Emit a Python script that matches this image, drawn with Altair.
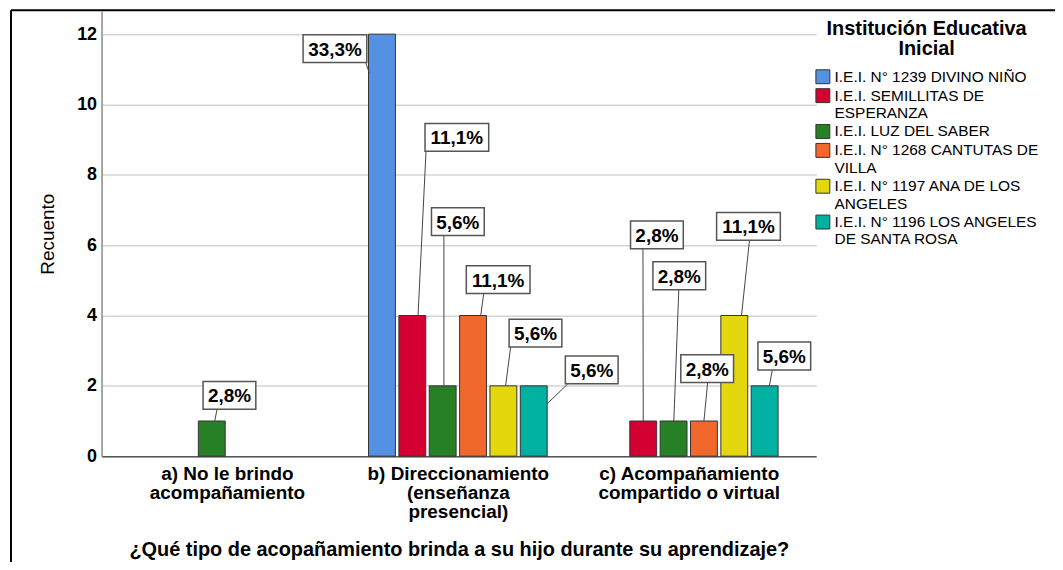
import textwrap
import altair as alt
import pandas as pd

# ---------------- data ----------------
categories = [
    "a) No le brindo acompañamiento",
    "b) Direccionamiento (enseñanza presencial)",
    "c) Acompañamiento compartido o virtual",
]
institutions = [
    "I.E.I. N° 1239 DIVINO NIÑO",
    "I.E.I. SEMILLITAS DE ESPERANZA",
    "I.E.I. LUZ DEL SABER",
    "I.E.I. N° 1268 CANTUTAS DE VILLA",
    "I.E.I. N° 1197 ANA DE LOS ANGELES",
    "I.E.I. N° 1196 LOS ANGELES DE SANTA ROSA",
]
colors = ["#5491e2", "#d50032", "#278026", "#f0682c", "#e4d70e", "#00b0a0"]

counts_a = [0, 0, 1, 0, 0, 0]
counts_b = [12, 4, 2, 4, 2, 2]
counts_c = [0, 1, 1, 1, 4, 2]
pct_a = [0, 0, 2.8, 0, 0, 0]
pct_b = [33.3, 11.1, 5.6, 11.1, 5.6, 5.6]
pct_c = [0, 2.8, 2.8, 2.8, 11.1, 5.6]

x_title = "¿Qué tipo de acopañamiento brinda a su hijo durante su aprendizaje?"
y_title = "Recuento"
legend_title = ["Institución Educativa", "Inicial"]

# ---------------- layout (pixels) ----------------
PLOT_W, PLOT_H = 718, 447
X_DOMAIN = [-0.5431, 2.5517]
Y_DOMAIN = [0, 12.65]
PXX = (X_DOMAIN[1] - X_DOMAIN[0]) / PLOT_W
PXY = (Y_DOMAIN[1] - Y_DOMAIN[0]) / PLOT_H
BAR_STEP = 30.5 * PXX
BOX_H = 14

# label placement: (box dx, box dy from bar top, leader dx at bar, leader dy at bar, leader dx at box)
label_layout = {
    (0, 2): (17.75, -25.7, 3, 0, -12.5),
    (1, 0): (-47.25, 14.5, -12.75, 39, 31),
    (1, 1): (44.75, -179, 5.75, 0, -31),
    (1, 2): (15.25, -165, 1.25, 0, -14),
    (1, 3): (25.25, -36, 7.75, 0, -14.5),
    (1, 4): (32.25, -53, 2.25, 0, -25),
    (1, 5): (58.25, -16, 13.5, 18, -24),
    (2, 1): (13.75, -187, 0, 0, -14),
    (2, 2): (5.75, -146, 0.25, 0, -0.5),
    (2, 3): (3.25, -52.7, 0, 0, 0.5),
    (2, 4): (14.25, -89.5, 7.25, 0, 1),
    (2, 5): (19.75, -30, 4.75, 0, -12),
}

rows = []
for ci, (cnts, pcts) in enumerate(zip([counts_a, counts_b, counts_c], [pct_a, pct_b, pct_c])):
    for ii, inst in enumerate(institutions):
        c = cnts[ii]
        if c <= 0:
            continue
        bdx, bdy, ldx, ldy, lbx = label_layout[(ci, ii)]
        xc = ci + (ii - 2.5) * BAR_STEP
        lx = xc + bdx * PXX
        ly = c - bdy * PXY
        rows.append(dict(
            ci=ci, institution=inst, count=c, base=0, xc=xc,
            label=(f"{pcts[ii]:.1f}".replace(".", ",") + "%"),
            long=pcts[ii] >= 10,
            lx=lx, ly=ly,
            ax=xc + ldx * PXX, ay=c - ldy * PXY,
            bx=lx + lbx * PXX, by=ly - BOX_H * PXY,
        ))
df = pd.DataFrame(rows)

FONT = "Liberation Sans"

# multi-line axis labels
cat_lines = [textwrap.wrap(c, 20) for c in categories]
def arr(lines):
    return "[" + ",".join("'" + l + "'" for l in lines) + "]"
x_label_expr = " : ".join(f"datum.value == {i} ? {arr(l)}" for i, l in enumerate(cat_lines)) + " : ''"

leg_expr = ""
for inst in institutions:
    leg_expr += f"datum.label == '{inst}' ? {arr(textwrap.wrap(inst, 26))} : "
leg_expr += "datum.label"

x_scale = alt.Scale(domain=X_DOMAIN, nice=False, zero=False)
y_scale = alt.Scale(domain=Y_DOMAIN, nice=False, zero=True)
x_axis = alt.Axis(
    values=[0, 1, 2], labelExpr=x_label_expr, grid=False, ticks=False,
    domainColor="#555555", domainWidth=1.5,
    labelFont=FONT, labelFontSize=19, labelFontWeight="bold", labelColor="black",
    labelPadding=8, labelLineHeight=19.5, labelBaseline="top", labelAngle=0,
    labelLimit=400,
    title=x_title, titleFont=FONT, titleFontSize=20, titleFontWeight="bold",
    titleColor="black", titlePadding=18,
)
y_axis = alt.Axis(
    values=[0, 2, 4, 6, 8, 10, 12], format="d", grid=True, gridColor="#d4d4d4",
    gridWidth=1.5, ticks=False, domainColor="#8a8a8a", domainWidth=1.5,
    labelFont=FONT, labelFontSize=18, labelFontWeight="bold", labelColor="black",
    labelPadding=5, title=y_title, titleFont=FONT, titleFontSize=19,
    titleFontWeight="normal", titleColor="black", titlePadding=19,
)

base = alt.Chart(df)

bars = base.mark_rect(xOffset=-13.5, x2Offset=13.5, stroke="#333333", strokeWidth=1).encode(
    x=alt.X("xc:Q", scale=x_scale, axis=x_axis),
    x2="xc:Q",
    y=alt.Y("count:Q", scale=y_scale, axis=y_axis),
    y2="base:Q",
    color=alt.Color(
        "institution:N",
        scale=alt.Scale(domain=institutions, range=colors),
        legend=alt.Legend(
            title=legend_title, orient="none", legendX=717, legendY=8,
            titleFont=FONT, titleFontSize=20, titleFontWeight="bold", titleColor="black",
            titleAlign="center", titleAnchor="middle", titleLineHeight=20, titlePadding=10,
            titleLimit=400,
            labelFont=FONT, labelFontSize=15.5, labelColor="black", labelExpr=leg_expr,
            labelLimit=400, labelOffset=4,
            symbolType="square", symbolSize=196, symbolStrokeColor="#333333",
            symbolStrokeWidth=1, symbolOpacity=1, rowPadding=0, padding=0,
        ),
    ),
)

leaders = base.mark_rule(color="#444444", strokeWidth=1).encode(
    x=alt.X("ax:Q", scale=x_scale, axis=x_axis),
    x2="bx:Q",
    y=alt.Y("ay:Q", scale=y_scale, axis=y_axis),
    y2="by:Q",
)

def boxes(is_long, hw):
    return base.transform_filter(
        f"datum.long == {str(is_long).lower()}"
    ).mark_rect(
        xOffset=-hw, x2Offset=hw, yOffset=-BOX_H, y2Offset=BOX_H,
        fill="white", stroke="#555555", strokeWidth=1.5,
    ).encode(
        x=alt.X("lx:Q", scale=x_scale, axis=x_axis),
        x2="lx:Q",
        y=alt.Y("ly:Q", scale=y_scale, axis=y_axis),
        y2="ly:Q",
    )

texts = base.mark_text(
    font=FONT, fontSize=19, fontWeight="bold", color="black",
    align="center", baseline="middle", dy=1,
).encode(
    x=alt.X("lx:Q", scale=x_scale, axis=x_axis),
    y=alt.Y("ly:Q", scale=y_scale, axis=y_axis),
    text="label:N",
)

frame_df = pd.DataFrame({"k": [0]})
frame_left = alt.Chart(frame_df).mark_rule(color="black", strokeWidth=2).encode(
    x=alt.value(-91), x2=alt.value(-91), y=alt.value(-1), y2=alt.value(560)
)
frame_top = alt.Chart(frame_df).mark_rule(color="black", strokeWidth=2).encode(
    x=alt.value(-91), x2=alt.value(960), y=alt.value(-1), y2=alt.value(-1)
)

chart = alt.layer(
    bars, leaders, boxes(True, 32), boxes(False, 26.5), texts, frame_left, frame_top
).properties(
    width=PLOT_W, height=PLOT_H,
    padding={"left": 94, "top": 2, "right": 240, "bottom": 105},
    autosize=alt.AutoSizeParams(type="none"),
    background="white",
).configure_view(stroke=None)

chart.save("out.html", embed_options={"renderer": "svg", "actions": False})
